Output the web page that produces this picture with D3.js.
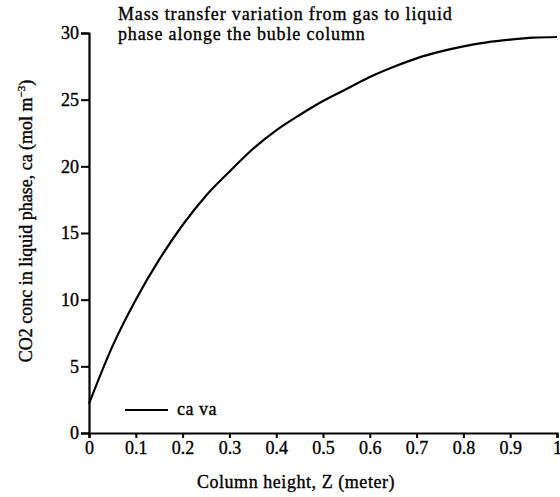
<!DOCTYPE html>
<html>
<head>
    <meta charset="utf-8">
    <title>Mass transfer</title>
    <script src="https://cdn.jsdelivr.net/npm/d3@7/dist/d3.min.js"></script>
    <style>
        body { margin: 0; background: #fff; }
        text { font-family: "Liberation Serif", "DejaVu Serif", serif; fill: #000; stroke: #000; stroke-width: 0.35px; }
    </style>
</head>
<body>
<div id="chart"></div>
<script>
    // column height Z (m)
    var zValues = [0, 0.05, 0.1, 0.15, 0.2, 0.25, 0.3, 0.35, 0.4, 0.45, 0.5,
                   0.55, 0.6, 0.65, 0.7, 0.75, 0.8, 0.85, 0.9, 0.95, 1.0];
    // ca va, CO2 conc in liquid phase (mol m-3)
    var caValues = [2.2, 6.5, 10.0, 13.0, 15.6, 17.8, 19.6, 21.3, 22.7, 23.85, 24.9,
                    25.8, 26.7, 27.45, 28.1, 28.6, 29.0, 29.3, 29.5, 29.65, 29.7];
    var xTicks = [0, 0.1, 0.2, 0.3, 0.4, 0.5, 0.6, 0.7, 0.8, 0.9, 1];
    var yTicks = [0, 5, 10, 15, 20, 25, 30];

    var width = 560, height = 497;
    var margin = { top: 33, right: 3, bottom: 64, left: 89 };

    var svg = d3.select("#chart").append("svg")
        .attr("width", width)
        .attr("height", height);

    var x = d3.scaleLinear().domain([0, 1]).range([margin.left, width - margin.right]);
    var y = d3.scaleLinear().domain([0, 30]).range([height - margin.bottom, margin.top]);

    var xAxis = svg.append("g")
        .attr("transform", "translate(0," + (height - margin.bottom) + ")")
        .call(d3.axisBottom(x).tickValues(xTicks).tickSizeOuter(0).tickSize(5).tickPadding(3)
            .tickFormat(function (d) { return d === 0 || d === 1 ? d : d3.format(".1f")(d); }));

    var yAxis = svg.append("g")
        .attr("transform", "translate(" + margin.left + ",0)")
        .call(d3.axisLeft(y).tickValues(yTicks).tickSizeOuter(0).tickSize(8).tickPadding(2));

    [xAxis, yAxis].forEach(function (g) {
        g.select(".domain").attr("stroke", "#000").attr("stroke-width", 2.2);
        g.selectAll(".tick line").attr("stroke", "#000").attr("stroke-width", 2);
        g.selectAll(".tick text")
            .attr("fill", "#000")
            .style("font-size", "18px")
            .style("font-family", "'Liberation Serif', serif");
    });

    var line = d3.line()
        .x(function (d, i) { return x(zValues[i]); })
        .y(function (d) { return y(d); })
        .curve(d3.curveMonotoneX);

    svg.append("path")
        .datum(caValues)
        .attr("fill", "none")
        .attr("stroke", "#000")
        .attr("stroke-width", 2.2)
        .attr("d", line);

    // legend
    svg.append("line")
        .attr("x1", 125).attr("x2", 168)
        .attr("y1", 410).attr("y2", 410)
        .attr("stroke", "#000").attr("stroke-width", 2);
    svg.append("text")
        .attr("x", 177).attr("y", 415)
        .style("font-size", "18px").style("letter-spacing", "0.5px")
        .text("ca va");

    // title
    var title = svg.append("text")
        .style("font-size", "18px").style("letter-spacing", "0.85px");
    title.append("tspan").attr("x", 118).attr("y", 20).text("Mass transfer variation from gas to liquid");
    title.append("tspan").attr("x", 118).attr("y", 40).text("phase alonge the buble column");

    // x label
    svg.append("text")
        .attr("x", 296).attr("y", 488)
        .attr("text-anchor", "middle")
        .style("font-size", "18px").style("letter-spacing", "0.55px")
        .text("Column height, Z (meter)");

    // y label
    var yl = svg.append("text")
        .attr("transform", "translate(32,221) rotate(-90)")
        .attr("text-anchor", "middle")
        .style("font-size", "18px");
    yl.append("tspan").text("CO2 conc in liquid phase, ca (mol m");
    yl.append("tspan").attr("dy", -7).style("font-size", "11px").text("\u22123");
    yl.append("tspan").attr("dy", 7).text(")");
</script>
</body>
</html>
